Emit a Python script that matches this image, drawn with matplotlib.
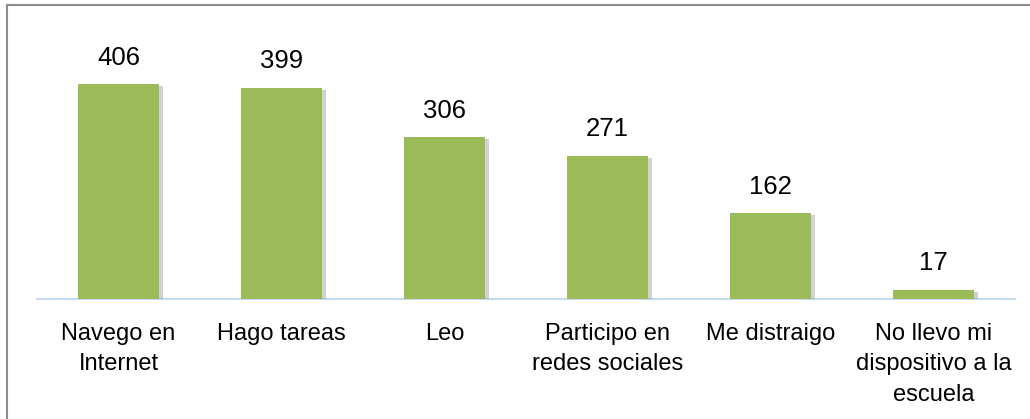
import matplotlib
matplotlib.use('Agg')
import matplotlib.pyplot as plt
import matplotlib.patheffects as pe
from matplotlib.lines import Line2D

categories = ['Navego en\nInternet', 'Hago tareas', 'Leo', 'Participo en\nredes sociales',
              'Me distraigo', 'No llevo mi\ndispositivo a la\nescuela']
values = [406, 399, 306, 271, 162, 17]

plt.rcParams['font.family'] = ['Liberation Sans', 'DejaVu Sans']

fig = plt.figure(figsize=(10.30, 4.19), dpi=100)
ax = fig.add_axes([37/1030, (419-299)/419, 978/1030, 238/419])

x = range(len(values))
bars = ax.bar(x, values, width=0.5, color='#9BBB59', zorder=3)
for b in bars:
    b.set_path_effects([pe.SimplePatchShadow(offset=(3, -1.5), shadow_rgbFace='#808080', alpha=0.35),
                        pe.Normal()])

for i, v in enumerate(values):
    ax.annotate(str(v), (i, v), xytext=(0, 10.5), textcoords='offset points',
                ha='center', va='bottom', fontsize=18.5, color='black')

ax.set_xlim(-0.5, len(values) - 0.5)
ax.set_ylim(0, 450)
ax.set_xticks(list(x))
ax.set_xticklabels(categories, fontsize=17, linespacing=1.5, va='top')
ax.tick_params(axis='x', length=0, pad=17)
ax.set_yticks([])
for s in ['top', 'right', 'left']:
    ax.spines[s].set_visible(False)
ax.spines['bottom'].set_color('#C5D9F1')
ax.spines['bottom'].set_linewidth(1.5)

# outer frame (top and left edges visible)
fig.add_artist(Line2D([7/1030, 7/1030], [0, 1 - 5/419], transform=fig.transFigure,
                      color='#8C8C8C', lw=1.5))
fig.add_artist(Line2D([7/1030, 1], [1 - 5/419, 1 - 5/419], transform=fig.transFigure,
                      color='#8C8C8C', lw=1.5))

fig.savefig('out.png', dpi=100)
